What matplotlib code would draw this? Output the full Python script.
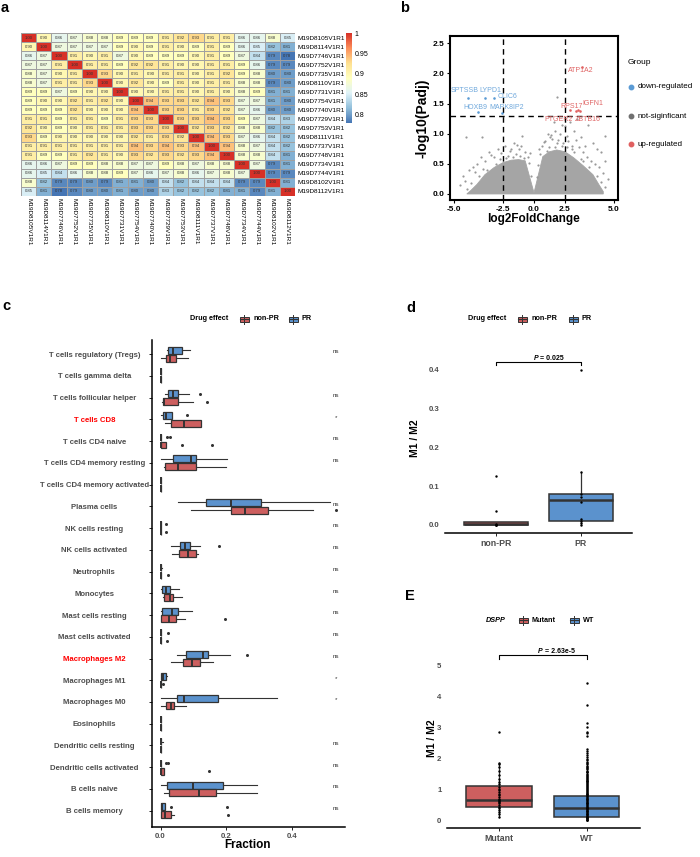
import numpy as np
import matplotlib
matplotlib.use('Agg')
import matplotlib.pyplot as plt
from matplotlib.colors import LinearSegmentedColormap
from matplotlib.patches import Rectangle
from matplotlib.lines import Line2D

plt.rcParams['font.family'] = ['Liberation Sans', 'DejaVu Sans']
plt.rcParams['axes.unicode_minus'] = False

W, H = 700, 857

# ---------------- panel a : sample correlation ----------------
samples = ['M19D8105V1R1', 'M19D8114V1R1', 'M19D7746V1R1', 'M19D7752V1R1',
           'M19D7735V1R1', 'M19D8110V1R1', 'M19D7731V1R1', 'M19D7754V1R1',
           'M19D7740V1R1', 'M19D7729V1R1', 'M19D7753V1R1', 'M19D8111V1R1',
           'M19D7737V1R1', 'M19D7748V1R1', 'M19D7734V1R1', 'M19D7744V1R1',
           'M19D8102V1R1', 'M19D8112V1R1']
corr = [
    [1.00, 0.90, 0.86, 0.87, 0.88, 0.88, 0.89, 0.89, 0.89, 0.91, 0.92, 0.93, 0.91, 0.91, 0.86, 0.86, 0.88, 0.85],
    [0.90, 1.00, 0.87, 0.87, 0.87, 0.87, 0.89, 0.90, 0.89, 0.91, 0.90, 0.89, 0.91, 0.89, 0.86, 0.85, 0.82, 0.81],
    [0.86, 0.87, 1.00, 0.91, 0.90, 0.91, 0.87, 0.90, 0.89, 0.89, 0.89, 0.90, 0.91, 0.89, 0.87, 0.84, 0.79, 0.78],
    [0.87, 0.87, 0.91, 1.00, 0.91, 0.91, 0.89, 0.92, 0.92, 0.91, 0.90, 0.90, 0.91, 0.91, 0.89, 0.86, 0.79, 0.79],
    [0.88, 0.87, 0.90, 0.91, 1.00, 0.93, 0.90, 0.91, 0.90, 0.91, 0.91, 0.90, 0.91, 0.92, 0.89, 0.88, 0.80, 0.80],
    [0.88, 0.87, 0.91, 0.91, 0.93, 1.00, 0.90, 0.92, 0.90, 0.89, 0.91, 0.90, 0.91, 0.91, 0.88, 0.88, 0.79, 0.80],
    [0.89, 0.89, 0.87, 0.89, 0.90, 0.90, 1.00, 0.90, 0.90, 0.91, 0.91, 0.90, 0.91, 0.90, 0.88, 0.89, 0.81, 0.81],
    [0.89, 0.90, 0.90, 0.92, 0.91, 0.92, 0.90, 1.00, 0.94, 0.93, 0.93, 0.92, 0.94, 0.93, 0.87, 0.87, 0.81, 0.80],
    [0.89, 0.89, 0.89, 0.92, 0.90, 0.90, 0.90, 0.94, 1.00, 0.93, 0.93, 0.91, 0.93, 0.92, 0.87, 0.86, 0.80, 0.80],
    [0.91, 0.91, 0.89, 0.91, 0.91, 0.89, 0.91, 0.93, 0.93, 1.00, 0.93, 0.93, 0.94, 0.93, 0.89, 0.87, 0.84, 0.83],
    [0.92, 0.90, 0.89, 0.90, 0.91, 0.91, 0.91, 0.93, 0.93, 0.93, 1.00, 0.92, 0.93, 0.92, 0.88, 0.88, 0.82, 0.82],
    [0.93, 0.89, 0.90, 0.90, 0.90, 0.90, 0.90, 0.92, 0.91, 0.93, 0.92, 1.00, 0.94, 0.93, 0.87, 0.86, 0.84, 0.82],
    [0.91, 0.91, 0.91, 0.91, 0.91, 0.91, 0.91, 0.94, 0.93, 0.94, 0.93, 0.94, 1.00, 0.94, 0.88, 0.87, 0.84, 0.82],
    [0.91, 0.89, 0.89, 0.91, 0.92, 0.91, 0.90, 0.93, 0.92, 0.93, 0.92, 0.93, 0.94, 1.00, 0.88, 0.88, 0.84, 0.81],
    [0.86, 0.86, 0.87, 0.89, 0.89, 0.88, 0.88, 0.87, 0.87, 0.89, 0.88, 0.87, 0.88, 0.88, 1.00, 0.87, 0.79, 0.81],
    [0.86, 0.85, 0.84, 0.86, 0.88, 0.88, 0.89, 0.87, 0.86, 0.87, 0.88, 0.86, 0.87, 0.88, 0.87, 1.00, 0.79, 0.79],
    [0.88, 0.82, 0.79, 0.79, 0.80, 0.79, 0.81, 0.81, 0.80, 0.84, 0.82, 0.84, 0.84, 0.84, 0.79, 0.79, 1.00, 0.81],
    [0.85, 0.81, 0.78, 0.79, 0.80, 0.80, 0.81, 0.80, 0.80, 0.83, 0.82, 0.82, 0.82, 0.81, 0.81, 0.79, 0.81, 1.00],
]
cbar_ticks = [0.8, 0.85, 0.9, 0.95, 1.0]
cbar_labels = ['0.8', '0.85', '0.9', '0.95', '1']

# ---------------- panel b : volcano ----------------
# envelope of the dense grey cloud (too many genes to list one by one)
cloud_x = [-4.4, -4.2, -3.9, -3.5, -3.0, -2.5, -2.0, -1.5, -1.0, 0.0, 1.0, 1.5, 2.0, 2.5, 3.0, 3.5, 4.0, 4.3, 4.5, 4.5, -4.4]
cloud_y = [0.0, 0.06, 0.16, 0.32, 0.44, 0.52, 0.56, 0.57, 0.55, 0.02, 0.62, 0.70, 0.73, 0.70, 0.60, 0.47, 0.32, 0.15, 0.04, 0.0, 0.0]
ns_x = [-4.44, -3.66, -1.25, -4.6, -4.3, -3.9, -3.7, -3.3, -3.0, -2.8, -2.4, -2.1, -1.8, -1.5, -1.3,
        -1.0, -0.8, -2.6, -3.5, -4.1, -4.7, -4.5, -0.6, -2.0, -1.6, -3.2, -4.0,
        1.54, 2.01, 2.32, 2.62, 3.76, 4.58, 1.2, 1.4, 1.7, 1.9, 2.1, 2.2, 2.4, 2.7, 2.9, 3.1, 3.3,
        3.5, 3.7, 3.9, 4.1, 4.3, 4.5, 4.7, 4.6, 4.4, 4.2, 3.4, 3.0, 2.8, 2.5, 1.8, 0.9, 0.7, 3.2,
        4.0, 1.1, 1.6, 3.6,
        -4.2, -3.8, -3.4, -2.9, -2.3, -1.9, -1.4, -1.1, -0.7, -0.4, -2.7, -3.6, -4.4, -1.7, -2.2,
        0.4, 0.8, 1.3, 1.9, 2.3, 2.6, 3.0, 3.4, 3.8, 4.2, 4.4, 2.0, 1.5, 2.9, 3.5, 0.6, 4.6]
ns_y = [0.95, 0.95, 0.96, 0.30, 0.40, 0.50, 0.62, 0.70, 0.62, 0.75, 0.80, 0.72, 0.85, 0.75, 0.80,
        0.70, 0.62, 0.68, 0.55, 0.45, 0.15, 0.22, 0.68, 0.74, 0.82, 0.64, 0.36,
        0.95, 1.61, 1.14, 0.96, 1.14, 0.96, 0.88, 1.00, 0.92, 1.05, 0.90, 1.00, 0.85, 0.88, 0.80, 0.90, 0.78,
        0.70, 0.62, 0.55, 0.50, 0.45, 0.35, 0.25, 0.55, 0.70, 0.75, 0.95, 1.05, 1.20, 1.12, 1.20, 0.80, 0.75, 1.25,
        0.85, 0.86, 0.98, 0.80,
        0.18, 0.30, 0.40, 0.50, 0.60, 0.62, 0.63, 0.60, 0.52, 0.30, 0.58, 0.42, 0.08, 0.66, 0.63,
        0.28, 0.66, 0.72, 0.78, 0.80, 0.78, 0.70, 0.58, 0.44, 0.30, 0.20, 0.84, 0.78, 0.74, 0.55, 0.48, 0.12]
down_genes = ['SPTSSB', 'LYPD1', 'CLIC6', 'HOXB9', 'MAPK8IP2']
down_x = [-4.36, -3.50, -3.02, -3.87, -2.55]
down_y = [1.60, 1.60, 1.60, 1.36, 1.35]
down_lab_x = [-4.49, -3.23, -2.23, -3.96, -2.28]
down_lab_y = [1.71, 1.71, 1.61, 1.43, 1.43]
up_genes = ['ATP1A2', 'RPS17', 'IGFN1', 'PTGER2', 'ZBTB16']
up_x = [3.46, 2.79, 3.34, 3.12, 3.25]
up_y = [2.11, 1.39, 1.37, 1.37, 1.40]
up_lab_x = [3.38, 2.89, 4.00, 2.13, 3.73]
up_lab_y = [2.05, 1.445, 1.50, 1.24, 1.24]
fc_cut = 2.5
padj_cut = 1.3

# ---------------- panel c : immune cell fractions ----------------
cells = ['T cells regulatory (Tregs)', 'T cells gamma delta', 'T cells follicular helper',
         'T cells CD8', 'T cells CD4 naive', 'T cells CD4 memory resting',
         'T cells CD4 memory activated', 'Plasma cells', 'NK cells resting',
         'NK cells activated', 'Neutrophils', 'Monocytes', 'Mast cells resting',
         'Mast cells activated', 'Macrophages M2', 'Macrophages M1', 'Macrophages M0',
         'Eosinophils', 'Dendritic cells resting', 'Dendritic cells activated',
         'B cells naive', 'B cells memory']
highlight = ['T cells CD8', 'Macrophages M2']
signif = ['ns', '', 'ns', '*', 'ns', 'ns', '', 'ns', 'ns', 'ns', 'ns', 'ns', 'ns', 'ns',
          'ns', '*', '*', '', 'ns', 'ns', 'ns', 'ns']
# PR (blue)
pr_lo = [0.019, 0, 0.014, 0.002, 0, 0.000, 0, 0.052, 0, 0.031, 0, 0.000, 0.000, 0, 0.049, 0.002, 0.000, 0, 0, 0, 0.000, 0.000]
pr_q1 = [0.022, 0, 0.022, 0.007, 0, 0.038, 0, 0.138, 0, 0.060, 0, 0.004, 0.006, 0, 0.077, 0.002, 0.049, 0, 0, 0, 0.019, 0.000]
pr_med = [0.039, 0, 0.037, 0.016, 0, 0.092, 0, 0.214, 0, 0.075, 0, 0.016, 0.034, 0, 0.129, 0.009, 0.072, 0, 0, 0, 0.098, 0.003]
pr_q3 = [0.065, 0, 0.054, 0.034, 0, 0.108, 0, 0.307, 0, 0.090, 0, 0.029, 0.054, 0, 0.146, 0.016, 0.175, 0, 0, 0, 0.192, 0.014]
pr_hi = [0.090, 0, 0.087, 0.034, 0, 0.204, 0, 0.517, 0, 0.121, 0.004, 0.056, 0.097, 0, 0.212, 0.019, 0.355, 0, 0.007, 0, 0.294, 0.014]
pr_out = [[], [], [0.119], [0.080], [0.019, 0.029], [], [], [], [0.017], [0.179], [], [], [], [0.022],
          [0.263], [], [], [], [], [0.016, 0.022], [], [0.032, 0.202]]
# non-PR (red)
npr_lo = [0.000, 0, 0.004, 0.014, 0.000, 0.012, 0, 0.093, 0, 0.036, 0, 0.009, 0.002, 0, 0.031, 0, 0.002, 0, 0, 0.000, 0.012, 0.000]
npr_q1 = [0.016, 0, 0.007, 0.031, 0.000, 0.014, 0, 0.214, 0, 0.056, 0, 0.012, 0.002, 0, 0.070, 0, 0.016, 0, 0, 0.000, 0.026, 0.000]
npr_med = [0.029, 0, 0.012, 0.072, 0.001, 0.054, 0, 0.258, 0, 0.083, 0, 0.029, 0.027, 0, 0.097, 0, 0.031, 0, 0, 0.001, 0.116, 0.014]
npr_q3 = [0.046, 0, 0.054, 0.124, 0.017, 0.108, 0, 0.329, 0, 0.107, 0, 0.037, 0.047, 0, 0.119, 0, 0.042, 0, 0, 0.012, 0.168, 0.031]
npr_hi = [0.083, 0, 0.100, 0.124, 0.017, 0.199, 0, 0.464, 0, 0.113, 0, 0.065, 0.075, 0, 0.161, 0, 0.077, 0, 0, 0.012, 0.294, 0.041]
npr_out = [[], [], [0.141], [], [0.067, 0.156], [], [], [0.536], [0.017], [], [0.022], [], [0.197], [0.019],
           [], [0.007], [], [], [], [0.148], [], [0.205]]

# ---------------- panel d : M1/M2 by drug effect ----------------
d_groups = ['non-PR', 'PR']
d_q1 = [0.0, 0.010]
d_med = [0.003, 0.0645]
d_q3 = [0.008, 0.079]
d_lo = [0.0, 0.0]
d_hi = [0.008, 0.136]
d_points = [[0.0, 0.0, 0.0, 0.003, 0.036, 0.127],
            [0.0, 0.004, 0.010, 0.015, 0.060, 0.071, 0.079, 0.136, 0.40]]
d_p = '0.025'

# ---------------- panel E : M1/M2 by DSPP ----------------
e_groups = ['Mutant', 'WT']
e_q1 = [0.43, 0.10]
e_med = [0.65, 0.38]
e_q3 = [1.11, 0.78]
e_lo = [0.11, 0.0]
e_hi = [1.86, 1.78]
e_mutant = [2.83, 1.86, 1.81, 1.72, 1.59, 1.45, 1.34, 1.24, 1.16, 1.08, 1.02, 0.97, 0.91, 0.86,
            0.81, 0.75, 0.70, 0.65, 0.62, 0.59, 0.54, 0.48, 0.43, 0.40, 0.34, 0.27, 0.19, 0.11]
e_wt = [4.41, 3.73, 3.12, 3.02, 2.85, 2.80, 2.72, 2.30, 2.24, 2.18, 2.10, 2.05, 1.98, 1.93,
        1.88, 1.84, 1.80, 1.76, 1.72, 1.68, 1.64, 1.60, 1.57, 1.54, 1.50, 1.47, 1.44, 1.40,
        1.37, 1.34, 1.31, 1.28, 1.25, 1.22, 1.19, 1.16, 1.13, 1.10, 1.07, 1.04, 1.01, 0.98,
        0.95, 0.92, 0.89, 0.86, 0.83, 0.80, 0.78, 0.75, 0.72, 0.70, 0.67, 0.64, 0.62, 0.59,
        0.56, 0.54, 0.51, 0.49, 0.46, 0.44, 0.41, 0.39, 0.36, 0.34, 0.31, 0.29, 0.26, 0.24,
        0.21, 0.19, 0.16, 0.14, 0.12, 0.10, 0.08, 0.06, 0.04, 0.02, 0.01, 0.00]
e_p = '2.63e-5'

RED = '#CD5F5F'
BLUE = '#5B92CD'
DARK = '#333333'
GREY = '#4D4D4D'

fig = plt.figure(figsize=(W / 100, H / 100), dpi=100)


def px_axes(l, t, r, b):
    return fig.add_axes([l / W, 1 - b / H, (r - l) / W, (b - t) / H])


def ftext(x, y, s, **kw):
    fig.text(x / W, 1 - y / H, s, **kw)


def key(x, y, color):
    # small boxplot glyph for the manual legends
    w, h = 9, 5
    fig.add_artist(Line2D([x / W, x / W], [1 - (y - h / 2 - 2) / H, 1 - (y + h / 2 + 2) / H],
                          transform=fig.transFigure, color=DARK, lw=0.7))
    fig.add_artist(Rectangle(((x - w / 2) / W, 1 - (y + h / 2) / H), w / W, h / H,
                             transform=fig.transFigure, facecolor=color, edgecolor=DARK, lw=0.7))
    fig.add_artist(Line2D([(x - w / 2) / W, (x + w / 2) / W], [1 - y / H] * 2,
                          transform=fig.transFigure, color=DARK, lw=0.8))


def legend_row(title, x_title, y, entries, italic=False):
    ftext(x_title, y, title, fontsize=5.2, fontweight='bold', va='center',
          fontstyle='italic' if italic else 'normal')
    for kx, color, lab in entries:
        key(kx, y, color)
        ftext(kx + 9, y, lab, fontsize=5.2, fontweight='bold', va='center')


# ---- a ----
cmap = LinearSegmentedColormap.from_list(
    'pheat', ['#4575B4', '#91BFDB', '#E0F3F8', '#FFFFBF', '#FEE090', '#FC8D59', '#D73027'])
axa = px_axes(21, 33, 295, 196)
mat = np.array(corr)
mesh = axa.pcolormesh(mat, cmap=cmap, vmin=0.78, vmax=1.0, edgecolors='#A0A0A0', linewidth=0.4)
axa.set_xlim(0, len(samples))
axa.set_ylim(len(samples), 0)
for i in range(len(samples)):
    for j in range(len(samples)):
        axa.text(j + 0.5, i + 0.5, '%.2f' % mat[i, j], ha='center', va='center',
                 fontsize=3.1, color=DARK)
axa.set_xticks(np.arange(len(samples)) + 0.5, samples, rotation=270, fontsize=4.6)
axa.yaxis.tick_right()
axa.set_yticks(np.arange(len(samples)) + 0.5, samples, fontsize=4.6)
axa.tick_params(length=0, pad=1.5)
for s in axa.spines.values():
    s.set_visible(False)
cax = px_axes(346, 33, 352, 123)
cb = fig.colorbar(mesh, cax=cax, ticks=cbar_ticks)
cb.ax.set_yticklabels(cbar_labels)
cb.ax.tick_params(length=0, labelsize=5, pad=2)
cb.outline.set_visible(False)

# ---- b ----
axb = px_axes(450, 36, 618, 200)
pw = 1.37
axb.set_xscale('function', functions=(lambda v: np.sign(v) * np.abs(v) ** pw,
                                      lambda v: np.sign(v) * np.abs(v) ** (1 / pw)))
axb.fill(cloud_x, cloud_y, color='#A5A5A5', lw=0.6, ec='#A5A5A5', zorder=1)
axb.scatter(ns_x, ns_y, s=2.5, color='#999999', lw=0, zorder=2)
axb.scatter(down_x, down_y, s=3.5, color='#5B9BD5', lw=0, zorder=3)
axb.scatter(up_x, up_y, s=3.5, color='#E06060', lw=0, zorder=3)
for g, x, y in zip(down_genes, down_lab_x, down_lab_y):
    axb.text(x, y, g, color='#6FA8DC', fontsize=5, ha='center', va='center')
for g, x, y in zip(up_genes, up_lab_x, up_lab_y):
    axb.text(x, y, g, color='#E06666', fontsize=5, ha='center', va='center')
axb.axvline(-fc_cut, color='black', lw=1, ls=(0, (4, 3)))
axb.axvline(fc_cut, color='black', lw=1, ls=(0, (4, 3)))
axb.axhline(padj_cut, color='black', lw=1, ls=(0, (4, 3)))
axb.set_xlim(-5.18, 5.18)
axb.set_ylim(-0.1, 2.62)
axb.set_xticks([-5, -2.5, 0, 2.5, 5], ['-5.0', '-2.5', '0.0', '2.5', '5.0'])
axb.set_yticks([0, 0.5, 1.0, 1.5, 2.0, 2.5], ['0.0', '0.5', '1.0', '1.5', '2.0', '2.5'])
axb.tick_params(labelsize=6, length=2.5, width=0.8, pad=1.5)
for lab in axb.get_xticklabels() + axb.get_yticklabels():
    lab.set_fontweight('bold')
for s in axb.spines.values():
    s.set_linewidth(1.5)
ftext(423, 118, '-log10(Padj)', rotation=90, fontsize=10, fontweight='bold', ha='center', va='center')
ftext(534, 219, 'log2FoldChange', fontsize=8.5, fontweight='bold', ha='center', va='center')
ftext(628, 63, 'Group', fontsize=6, va='center')
for y, c, lab in [(87, '#5B9BD5', 'down-regulated'), (116, '#707070', 'not-siginficant'),
                  (144, '#E06060', 'up-regulated')]:
    fig.add_artist(Line2D([631 / W], [1 - y / H], marker='o', ms=3.2, color=c, lw=0,
                          transform=fig.transFigure))
    ftext(638, y, lab, fontsize=5.8, va='center')

# ---- c ----
axc = px_axes(152, 340, 345, 827)
n = len(cells)
pos = np.arange(n)
pr_stats = [dict(whislo=pr_lo[i], q1=pr_q1[i], med=pr_med[i], q3=pr_q3[i], whishi=pr_hi[i],
                 fliers=pr_out[i]) for i in range(n)]
npr_stats = [dict(whislo=npr_lo[i], q1=npr_q1[i], med=npr_med[i], q3=npr_q3[i], whishi=npr_hi[i],
                  fliers=npr_out[i]) for i in range(n)]
for stats, off, col in [(pr_stats, -0.18, BLUE), (npr_stats, 0.18, RED)]:
    axc.bxp(stats, positions=pos + off, widths=0.32, orientation='horizontal', patch_artist=True,
            showcaps=False,
            boxprops=dict(facecolor=col, edgecolor=DARK, linewidth=0.9),
            medianprops=dict(color=DARK, linewidth=1.4),
            whiskerprops=dict(color=DARK, linewidth=0.8),
            flierprops=dict(marker='o', markersize=2.2, markerfacecolor=DARK, markeredgecolor='none'))
for i, s in enumerate(signif):
    axc.text(0.536, i - 0.1, s, ha='center', va='center', fontsize=4.5, color=DARK)
axc.set_xlim(-0.026, 0.563)
axc.set_ylim(n - 0.25, -0.65)
axc.set_yticks(pos, cells)
axc.set_xticks([0.0, 0.2, 0.4], ['0.0', '0.2', '0.4'])
axc.tick_params(axis='y', length=2, width=0.6, pad=39.5, labelsize=5.6, labelcolor=GREY)
axc.tick_params(axis='x', length=2, width=0.6, pad=2, labelsize=5.6, labelcolor=GREY)
for lab in axc.get_yticklabels():
    lab.set_ha('center')
    lab.set_fontweight('bold')
    if lab.get_text() in highlight:
        lab.set_color('red')
for lab in axc.get_xticklabels():
    lab.set_fontweight('bold')
axc.spines[['top', 'right']].set_visible(False)
axc.spines[['left', 'bottom']].set_linewidth(1.1)
ftext(248, 845, 'Fraction', fontsize=8.5, fontweight='bold', ha='center', va='center')
legend_row('Drug effect', 190, 319, [(244, RED, 'non-PR'), (293, BLUE, 'PR')])


def group_box(ax, q1, med, q3, lo, hi, points, p_text, p_y, labels):
    stats = [dict(whislo=lo[i], q1=q1[i], med=med[i], q3=q3[i], whishi=hi[i], fliers=[])
             for i in range(2)]
    for i, col in enumerate([RED, BLUE]):
        ax.bxp([stats[i]], positions=[i + 1], widths=0.75, patch_artist=True, showcaps=False,
               showfliers=False,
               boxprops=dict(facecolor=col, edgecolor=DARK, linewidth=1.1),
               medianprops=dict(color=DARK, linewidth=1.8),
               whiskerprops=dict(color=DARK, linewidth=0.9))
        ax.scatter([i + 1] * len(points[i]), points[i], s=3, color='black', lw=0, zorder=5)
    b_lo, b_hi = p_y
    ax.plot([1, 1, 2, 2], [b_lo, b_hi, b_hi, b_lo], color='black', lw=0.8)
    ax.text(1.5, b_hi, ' = ' + p_text, ha='left', va='bottom', fontsize=5, fontweight='bold')
    ax.text(1.5, b_hi, 'P', ha='right', va='bottom', fontsize=5, fontweight='bold',
            fontstyle='italic')
    ax.set_xticks([1, 2], labels)
    ax.tick_params(axis='x', length=2, width=0.6, labelsize=6.3, labelcolor=GREY, pad=2)
    ax.tick_params(axis='y', length=0, labelsize=5.6, labelcolor=GREY, pad=4)
    for lab in ax.get_xticklabels() + ax.get_yticklabels():
        lab.set_fontweight('bold')
    ax.spines[['top', 'right', 'left']].set_visible(False)
    ax.spines['bottom'].set_linewidth(1.1)


# ---- d ----
axd = px_axes(445, 340, 632, 533)
group_box(axd, d_q1, d_med, d_q3, d_lo, d_hi, d_points, d_p, (0.413, 0.421), d_groups)
axd.set_xlim(0.406, 2.598)
axd.set_ylim(-0.021, 0.477)
axd.set_yticks([0, 0.1, 0.2, 0.3, 0.4], ['0.0', '0.1', '0.2', '0.3', '0.4'])
for lab in axd.get_yticklabels():
    lab.set_fontweight('bold')
ftext(415, 438, 'M1 / M2', rotation=90, fontsize=7.5, fontweight='bold', ha='center', va='center')
legend_row('Drug effect', 468, 319, [(522, RED, 'non-PR'), (573, BLUE, 'PR')])

# ---- E ----
axe = px_axes(447, 640, 640, 828)
group_box(axe, e_q1, e_med, e_q3, e_lo, e_hi, [e_mutant, e_wt], e_p, (5.21, 5.32), e_groups)
axe.set_xlim(0.402, 2.61)
axe.set_ylim(-0.25, 5.81)
axe.set_yticks([0, 1, 2, 3, 4, 5], ['0', '1', '2', '3', '4', '5'])
for lab in axe.get_yticklabels():
    lab.set_fontweight('bold')
ftext(432, 738, 'M1 / M2', rotation=90, fontsize=7.5, fontweight='bold', ha='center', va='center')
legend_row('DSPP', 486, 620, [(523, RED, 'Mutant'), (574, BLUE, 'WT')], italic=True)

# panel letters
for x, y, s in [(1, 12, 'a'), (400, 12, 'b'), (2, 310, 'c'), (406, 312, 'd'), (405, 600, 'E')]:
    ftext(x, y, s, fontsize=10.5, fontweight='bold', va='baseline')

fig.savefig('out.png', dpi=100)
